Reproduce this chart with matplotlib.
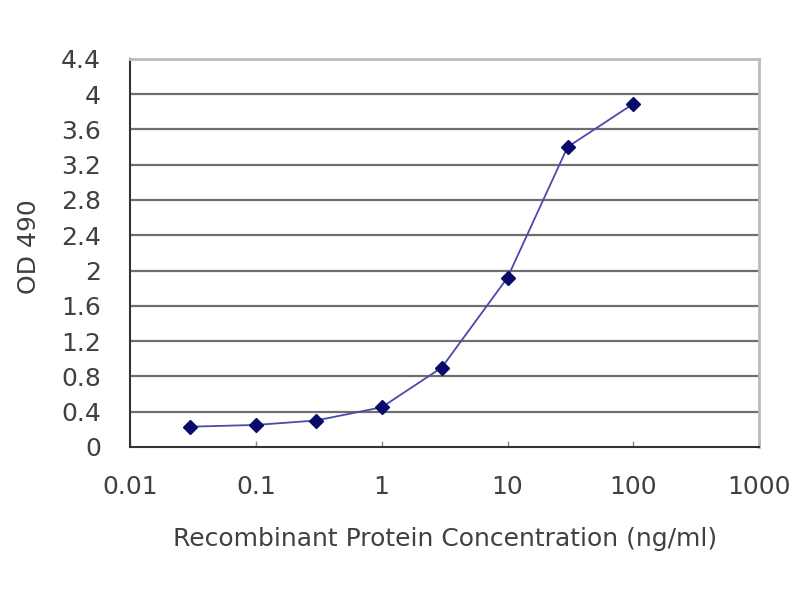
import numpy as np
import matplotlib
matplotlib.use("Agg")
import matplotlib.pyplot as plt
from matplotlib.ticker import FixedLocator, FixedFormatter, NullLocator

plt.rcParams['font.family'] = ['DejaVu Sans']

# data
conc = [0.03, 0.1, 0.3, 1, 3, 10, 30, 100]
od490 = [0.23, 0.25, 0.30, 0.45, 0.90, 1.92, 3.40, 3.89]

x_ticks = [0.01, 0.1, 1, 10, 100, 1000]
x_labels = ["0.01", "0.1", "1", "10", "100", "1000"]
y_ticks = [0, 0.4, 0.8, 1.2, 1.6, 2, 2.4, 2.8, 3.2, 3.6, 4, 4.4]
y_labels = ["0", "0.4", "0.8", "1.2", "1.6", "2", "2.4", "2.8", "3.2", "3.6", "4", "4.4"]

fig = plt.figure(figsize=(8, 6), dpi=100)
ax = fig.add_axes([0.1625, 0.255, 0.7865, 0.647])

txt = '#404040'
ax.set_xscale('log')
ax.set_xlim(0.01, 1000)
ax.set_ylim(0, 4.4)

for yv in y_ticks[1:-1]:
    ax.axhline(yv, color='#6e6e6e', lw=1.6, zorder=1)

ax.plot(conc, od490, color='#4a4aa8', lw=1.3, zorder=2)
ax.plot(conc, od490, ls='none', marker='D', ms=7, color='#0a0a6a', zorder=3)

ax.xaxis.set_major_locator(FixedLocator(x_ticks))
ax.xaxis.set_major_formatter(FixedFormatter(x_labels))
ax.xaxis.set_minor_locator(NullLocator())
ax.yaxis.set_major_locator(FixedLocator(y_ticks))
ax.yaxis.set_major_formatter(FixedFormatter(y_labels))

ax.tick_params(axis='x', direction='in', length=4, width=1, color='#888888',
               labelsize=18, labelcolor=txt, pad=20)
ax.tick_params(axis='y', length=0, labelsize=18, labelcolor=txt, pad=21)

ax.spines['left'].set_color('#333333')
ax.spines['left'].set_linewidth(1.5)
ax.spines['bottom'].set_color('#333333')
ax.spines['bottom'].set_linewidth(1.5)
ax.spines['top'].set_color('#bbbbbb')
ax.spines['top'].set_linewidth(2)
ax.spines['right'].set_color('#bbbbbb')
ax.spines['right'].set_linewidth(2)

ax.set_xlabel("Recombinant Protein Concentration (ng/ml)", fontsize=18,
              color=txt, labelpad=20)
ax.set_ylabel("OD 490", fontsize=18, color=txt)
ax.yaxis.set_label_coords(-0.142, 0.515)

fig.savefig("out.png", dpi=100)
